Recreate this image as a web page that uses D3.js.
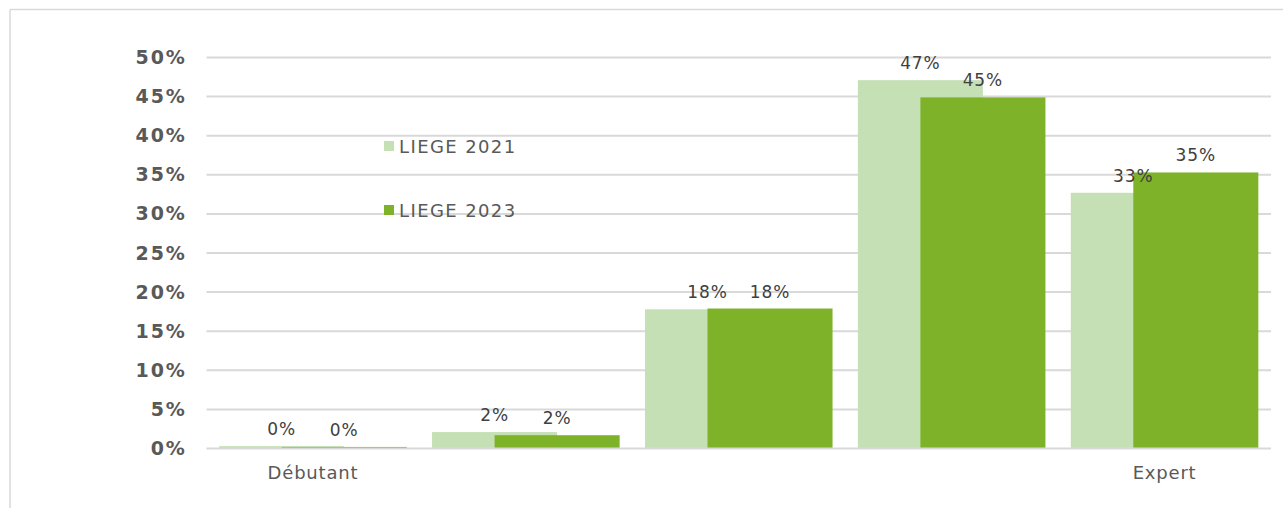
<!DOCTYPE html>
<html>
<head>
<meta charset="utf-8">
<script src="https://cdn.jsdelivr.net/npm/d3@7"></script>
<style>
  html, body { margin: 0; padding: 0; background: #fff; }
  svg { display: block; font-family: Verdana, "DejaVu Sans", sans-serif; }
</style>
</head>
<body>
<svg id="chart" width="1283" height="508"></svg>
<script>
// Skill level, from beginner to expert (only the two ends are named)
const categories = ["Débutant", "", "", "", "Expert"];
const seriesNames = ["LIEGE 2021", "LIEGE 2023"];
const liege2021 = [0.003, 0.021, 0.178, 0.471, 0.327];
const liege2023 = [0.002, 0.017, 0.179, 0.449, 0.353];
const yTicks = [0, 0.05, 0.10, 0.15, 0.20, 0.25, 0.30, 0.35, 0.40, 0.45, 0.50];

const colors = ["#C5E0B4", "#7EB229"];
const series = [liege2021, liege2023];

const svg = d3.select("#chart");
const W = 1283, H = 508;
const plot = { left: 206.5, right: 1271, top: 57.5, bottom: 448.5 };

// chart frame (top and left edges)
svg.append("line").attr("x1", 10).attr("x2", W).attr("y1", 9.5).attr("y2", 9.5)
  .attr("stroke", "#D9D9D9").attr("stroke-width", 1.5);
svg.append("line").attr("x1", 10).attr("x2", 10).attr("y1", 9.5).attr("y2", H)
  .attr("stroke", "#D9D9D9").attr("stroke-width", 1.5);

const x0 = d3.scaleBand()
  .domain(d3.range(categories.length))
  .range([plot.left, plot.right])
  .paddingInner(0.119)
  .paddingOuter(0.0595);

const y = d3.scaleLinear().domain([0, 0.5]).range([plot.bottom, plot.top]);

// gridlines
svg.append("g").selectAll("line").data(yTicks.slice(1)).join("line")
  .attr("x1", plot.left).attr("x2", plot.right)
  .attr("y1", d => y(d)).attr("y2", d => y(d))
  .attr("stroke", "#D9D9D9").attr("stroke-width", 2);

// y axis labels
const yAxis = d3.axisLeft(y).tickValues(yTicks).tickFormat(d3.format(".0%"))
  .tickSize(0).tickPadding(20);
const gy = svg.append("g").attr("transform", `translate(${plot.left},0)`).call(yAxis);
gy.select(".domain").remove();
gy.selectAll("text")
  .attr("fill", "#595959")
  .style("font-family", "Verdana, 'DejaVu Sans', sans-serif")
  .style("font-size", "19px")
  .style("font-weight", "bold")
  .style("letter-spacing", "1.8px");

// bars: the 2023 bar sits over the right half of the 2021 bar
const bw = x0.bandwidth() * 2 / 3;
const offset = x0.bandwidth() / 3;
series.forEach((vals, s) => {
  svg.append("g").selectAll("rect").data(vals).join("rect")
    .attr("x", (d, i) => x0(i) + s * offset)
    .attr("y", d => y(d))
    .attr("width", bw)
    .attr("height", d => y(0) - y(d))
    .attr("fill", colors[s]);
});

// x axis line
svg.append("line").attr("x1", plot.left).attr("x2", plot.right)
  .attr("y1", plot.bottom).attr("y2", plot.bottom)
  .attr("stroke", "#D9D9D9").attr("stroke-width", 2);

// value labels
const fmt = d3.format(".0%");
series.forEach((vals, s) => {
  svg.append("g").selectAll("text").data(vals).join("text")
    .attr("x", (d, i) => x0(i) + s * offset + bw / 2)
    .attr("y", d => y(d) - 11)
    .attr("text-anchor", "middle")
    .attr("fill", "#404040")
    .style("font-size", "17px")
    .style("letter-spacing", "0.9px")
    .text(d => fmt(d));
});

// category labels
const xAxis = d3.axisBottom(x0).tickFormat(i => categories[i]).tickSize(0).tickPadding(18);
const gx = svg.append("g").attr("transform", `translate(0,${plot.bottom})`).call(xAxis);
gx.select(".domain").remove();
gx.selectAll("text")
  .attr("fill", "#595959")
  .style("font-family", "Verdana, 'DejaVu Sans', sans-serif")
  .style("font-size", "18px")
  .style("letter-spacing", "0.8px");

// legend
const legend = svg.append("g");
const legendY = [146, 210];
seriesNames.forEach((name, s) => {
  const g = legend.append("g").attr("transform", `translate(384,${legendY[s]})`);
  g.append("rect").attr("x", 0).attr("y", -5).attr("width", 10).attr("height", 10)
    .attr("fill", colors[s]);
  g.append("text").attr("x", 15).attr("y", 6.5)
    .attr("fill", "#595959")
    .style("font-size", "18px")
    .style("letter-spacing", "1.4px")
    .text(name);
});
</script>
</body>
</html>
